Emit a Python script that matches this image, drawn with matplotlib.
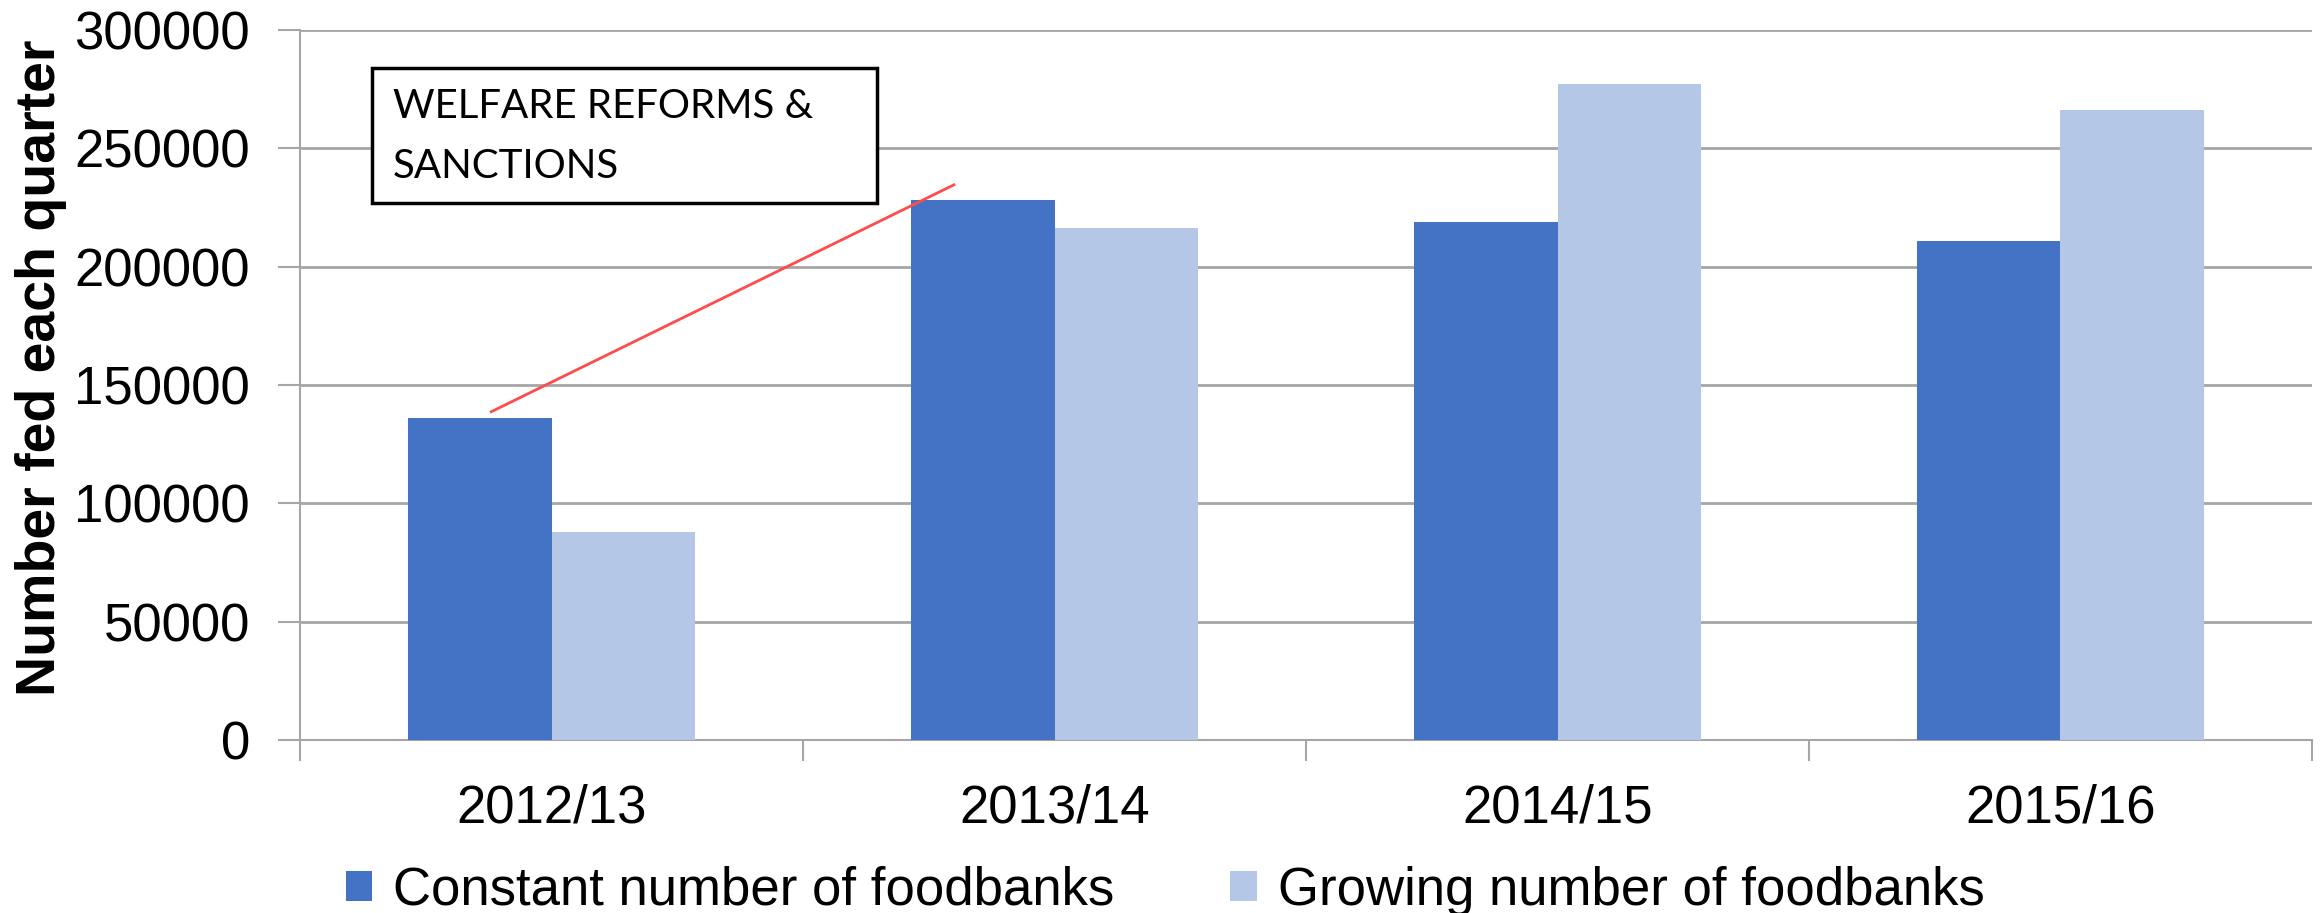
import numpy as np
import matplotlib.pyplot as plt
from matplotlib.patches import Rectangle

years = ["2012/13", "2013/14", "2014/15", "2015/16"]
constant_banks = [136000, 228000, 219000, 211000]
growing_banks = [88000, 216500, 277300, 266200]
series_names = ["Constant number of foodbanks", "Growing number of foodbanks"]

# trend line drawn over the chart, from 2012/13 up towards 2013/14
trend_x = [-0.12, 0.80]
trend_y = [138700, 234600]

plt.rcParams['font.family'] = ['Liberation Sans', 'DejaVu Sans']

fig = plt.figure(figsize=(23.21, 9.13), dpi=100)
ax = fig.add_axes([0.1293, 0.1895, 0.8668, 0.7776])

x = np.arange(len(years))
w = 0.285
ax.bar(x - w / 2, constant_banks, w, color='#4472C4', label=series_names[0], zorder=3)
ax.bar(x + w / 2, growing_banks, w, color='#B4C7E7', label=series_names[1], zorder=3)

ax.set_xlim(-0.5, len(years) - 0.5)
ax.set_ylim(0, 300000)
ax.set_yticks(np.arange(0, 300001, 50000))
ax.yaxis.grid(True, color='#a6a6a6', linewidth=2, zorder=0)

# category labels in the middle, tick marks on the boundaries
ax.set_xticks(x)
ax.set_xticklabels(years)
ax.set_xticks(np.arange(-0.5, len(years)), minor=True)
ax.tick_params(axis='x', which='major', length=0, pad=31, labelsize=38)
ax.tick_params(axis='x', which='minor', length=15, width=1.5, color='#a6a6a6', direction='out')
ax.tick_params(axis='y', length=16, width=1.5, color='#a6a6a6', pad=20, labelsize=38)

for s in ['top', 'right']:
    ax.spines[s].set_visible(False)
for s in ['left', 'bottom']:
    ax.spines[s].set_color('#a6a6a6')
    ax.spines[s].set_linewidth(1.5)

ax.set_ylabel("Number fed each quarter", fontsize=40, fontweight='bold', labelpad=5)
ax.yaxis.set_label_coords(-0.116, 0.525)

ax.plot(trend_x, trend_y, color='#FF4B4B', linewidth=2, zorder=5)

box = Rectangle((-0.357, 227000), 1.004, 57000, facecolor='white', edgecolor='black',
                linewidth=2.5, zorder=6)
ax.add_patch(box)
ax.text(-0.315, 275500, "WELFARE REFORMS &\nSANCTIONS", fontsize=29, va='top', ha='left',
        family=['Lato', 'DejaVu Sans'], linespacing=1.78, zorder=7)

fig.legend(loc='lower center', bbox_to_anchor=(0.502, -0.055), ncol=2, frameon=False,
           fontsize=38, handlelength=0.5, handleheight=0.5, handletextpad=0.4,
           columnspacing=2.2)

fig.savefig("out.png", dpi=100)
